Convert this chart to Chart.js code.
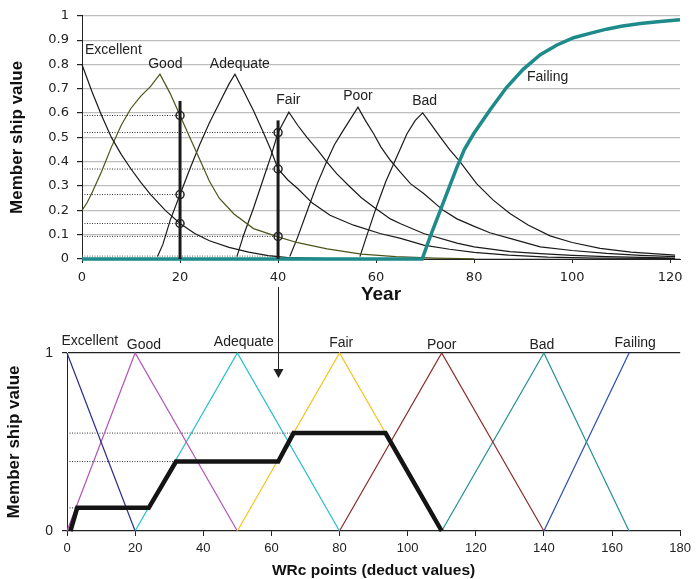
<!DOCTYPE html>
<html>
<head>
<meta charset="utf-8">
<script src="https://cdn.jsdelivr.net/npm/chart.js@4.4.0/dist/chart.umd.min.js"></script>
<style>
    html, body { margin: 0; padding: 0; background: #fff; }
    #wrap { position: relative; width: 696px; height: 579px; }
    #topChart { position: absolute; left: 0; top: 0; }
    #bottomChart { position: absolute; left: 0; top: 300px; }
</style>
</head>
<body>
<div id="wrap">
    <canvas id="topChart" width="696" height="300"></canvas>
    <canvas id="bottomChart" width="696" height="279"></canvas>
</div>
<script>
/* =========================
   DATA - top chart (year, membership)
========================== */
const yearTicks = [0, 20, 40, 60, 80, 100, 120];
const classNames = ['Excellent', 'Good', 'Adequate', 'Fair', 'Poor', 'Bad', 'Failing'];

const excellentTop = [[0, 0.8], [2, 0.69], [4, 0.59], [6, 0.5], [8, 0.43], [10, 0.37], [12, 0.315],
    [14, 0.265], [17, 0.2], [20, 0.146], [23, 0.105], [26, 0.075], [30, 0.048], [34, 0.028],
    [38, 0.014], [42, 0.006], [50, 0.002]];
const goodTop = [[0, 0.2], [1, 0.23], [2, 0.27], [4, 0.36], [6, 0.46], [8, 0.55], [10, 0.62], [12, 0.67],
    [14, 0.71], [15.9, 0.76], [18, 0.68], [20, 0.59], [22, 0.5], [24, 0.41], [26, 0.32], [28, 0.25],
    [31, 0.185], [35, 0.125], [40, 0.091], [44, 0.067], [50, 0.042], [57, 0.02], [64, 0.01],
    [72, 0.004], [80, 0.001]];
const adequateTop = [[15.4, 0.01], [16.5, 0.06], [18, 0.16], [20, 0.265], [22, 0.37], [24, 0.47],
    [26, 0.56], [28, 0.64], [30, 0.72], [31.2, 0.76], [33, 0.69], [35, 0.61], [37, 0.52], [38.5, 0.45],
    [40, 0.37], [42, 0.325], [44, 0.29], [47, 0.23], [50.6, 0.18], [55.4, 0.139], [60.8, 0.105],
    [65, 0.085], [69.7, 0.057], [75, 0.04], [80, 0.027], [87, 0.016], [95, 0.008], [105, 0.004], [121, 0.002]];
const fairTop = [[31.6, 0.01], [33, 0.1], [35, 0.21], [37, 0.33], [38.5, 0.42], [40, 0.52], [42.2, 0.604],
    [44, 0.55], [45.9, 0.5], [48, 0.45], [49.9, 0.4], [52, 0.35], [54.7, 0.296], [57, 0.252],
    [59.5, 0.214], [62.9, 0.165], [65, 0.145], [69.7, 0.105], [76.5, 0.065], [80, 0.05], [87.3, 0.03],
    [93.5, 0.022], [100, 0.015], [107, 0.01], [121, 0.004]];
const poorTop = [[42.4, 0.01], [44, 0.09], [46.5, 0.228], [48, 0.31], [49.9, 0.4], [51.5, 0.47],
    [53.3, 0.529], [56.3, 0.624], [57.8, 0.57], [59.5, 0.515], [61, 0.46], [62.9, 0.406], [64.9, 0.358],
    [67, 0.31], [69.7, 0.269], [73.7, 0.2], [76.5, 0.165], [79.9, 0.135], [83.2, 0.108], [87.3, 0.085],
    [93.5, 0.05], [100, 0.035], [107, 0.023], [114, 0.015], [121, 0.01]];
const badTop = [[56.7, 0.01], [58, 0.09], [60, 0.21], [62, 0.32], [64, 0.41], [66.3, 0.515], [68, 0.57],
    [69.5, 0.601], [71, 0.56], [73.1, 0.501], [75, 0.45], [77.1, 0.4], [80.5, 0.31], [83.9, 0.242],
    [87.3, 0.187], [91, 0.14], [95.5, 0.095], [100, 0.068], [105.7, 0.044], [112, 0.028], [121, 0.016]];
const failingTop = [[0, 0], [69.4, 0], [71, 0.09], [73.1, 0.2], [75, 0.3], [76.5, 0.378], [78, 0.45],
    [79.9, 0.515], [83.3, 0.615], [86.6, 0.705], [90, 0.78], [93.5, 0.84], [96.9, 0.88], [100.3, 0.91],
    [104, 0.93], [107, 0.945], [110, 0.957], [113.9, 0.968], [118, 0.977], [122, 0.984]];

// readings at year 20 and 40
const sampleYears = [20, 40];
const sampleTops = [0.65, 0.57];
const readAt20 = [0.59, 0.265, 0.146];
const readAt40 = [0.52, 0.37, 0.093];
const baseDotted = 0.012;
const arrowYear = 40;

/* =========================
   DATA - bottom chart (WRc points, membership)
========================== */
const wrcTicks = [0, 20, 40, 60, 80, 100, 120, 140, 160, 180];
const excellentWrc = [[0, 1], [20, 0]];
const goodWrc = [[0, 0], [20, 1], [50, 0]];
const adequateWrc = [[20, 0], [50, 1], [80, 0]];
const fairWrc = [[50, 0], [80, 1], [110, 0]];
const poorWrc = [[80, 0], [110, 1], [140, 0]];
const badWrc = [[110, 0], [140, 1], [165, 0]];
const failingWrc = [[140, 0], [165, 1]];
const outputWrc = [[1, 0], [3, 0.13], [24, 0.13], [32, 0.39], [62, 0.39], [66.5, 0.55], [93.5, 0.55], [110, 0]];
const outputLevels = [[3, 0.13], [32, 0.39], [66.5, 0.55]];

const pts = arr => arr.map(([x, y]) => ({ x, y }));

const tickFontTop = { family: "'DejaVu Sans', sans-serif", size: 13 };
const tickFontBottom = { family: "'Liberation Sans', Arial, sans-serif", size: 13 };
const titleFont = (size) => ({ family: "'Liberation Sans', Arial, sans-serif", size, weight: 'bold', lineHeight: 1 });

const line = (data, color, width, extra) => Object.assign({
    data: pts(data), borderColor: color, borderWidth: width, pointRadius: 0,
    fill: false, tension: 0, clip: false
}, extra || {});

/* =========================
   PLUGINS
========================== */
const curveLabels = {
    id: 'curveLabels',
    afterDatasetsDraw(chart, args, opts) {
        const { ctx, scales: { x, y } } = chart;
        ctx.save();
        ctx.font = "14px 'Liberation Sans', Arial, sans-serif";
        ctx.fillStyle = '#222';
        ctx.textAlign = 'center';
        ctx.textBaseline = 'middle';
        opts.items.forEach(it => {
            ctx.fillText(it.text, x.getPixelForValue(it.x), y.getPixelForValue(it.y) + (it.dy || 0));
        });
        ctx.restore();
    }
};

const arrowStub = {
    id: 'arrowStub',
    afterDraw(chart) {
        const { ctx } = chart;
        const px = Math.round(chart.scales.x.getPixelForValue(arrowYear)) + 0.5;
        ctx.save();
        ctx.strokeStyle = '#222';
        ctx.lineWidth = 1;
        ctx.beginPath();
        ctx.moveTo(px, 287);
        ctx.lineTo(px, chart.height);
        ctx.stroke();
        ctx.restore();
    }
};

/* =========================
   TOP CHART
========================== */
const dottedTop = [];
readAt20.forEach(v => dottedTop.push(line([[0, v], [20, v]], '#333', 1, { borderDash: [1, 1.5] })));
readAt40.forEach(v => dottedTop.push(line([[0, v], [40, v]], '#333', 1, { borderDash: [1, 1.5] })));
dottedTop.push(line([[0, baseDotted], [40, baseDotted]], '#666', 1, { borderDash: [1, 1.5] }));

const markers = {
    data: [...readAt20.map(v => ({ x: 20, y: v })), ...readAt40.map(v => ({ x: 40, y: v }))],
    showLine: false, pointRadius: 4, pointBorderWidth: 1.5,
    pointBorderColor: '#222', pointBackgroundColor: 'rgba(0,0,0,0)', clip: false
};

const topChart = new Chart(document.getElementById('topChart'), {
    type: 'line',
    data: {
        datasets: [
            markers,
            line([[sampleYears[0], 0], [sampleYears[0], sampleTops[0]]], '#1a1a1a', 3),
            line([[sampleYears[1], 0], [sampleYears[1], sampleTops[1]]], '#1a1a1a', 3),
            line(failingTop, '#1e8a8a', 3.5),
            line(excellentTop, '#1a1a1a', 1.2),
            line(goodTop, '#4d5319', 1.2),
            line(adequateTop, '#1a1a1a', 1.2),
            line(fairTop, '#1a1a1a', 1.2),
            line(poorTop, '#1a1a1a', 1.2),
            line(badTop, '#1a1a1a', 1.2),
            ...dottedTop
        ]
    },
    plugins: [curveLabels, arrowStub],
    options: {
        responsive: false,
        animation: false,
        layout: { padding: { top: 15, right: 16, left: 0, bottom: 0 } },
        plugins: {
            legend: { display: false },
            tooltip: { enabled: false },
            curveLabels: {
                items: [
                    { text: classNames[0], x: 6.4, y: 0.86 },
                    { text: classNames[1], x: 17, y: 0.8 },
                    { text: classNames[2], x: 32.2, y: 0.803 },
                    { text: classNames[3], x: 42.1, y: 0.652 },
                    { text: classNames[4], x: 56.3, y: 0.668 },
                    { text: classNames[5], x: 69.9, y: 0.648 },
                    { text: classNames[6], x: 95, y: 0.746 }
                ]
            }
        },
        scales: {
            x: {
                type: 'linear', min: 0, max: 122,
                afterBuildTicks: s => { s.ticks = yearTicks.map(v => ({ value: v })); },
                grid: { drawOnChartArea: false, drawTicks: true, tickLength: 4, tickColor: '#222' },
                border: { color: '#222', width: 1 },
                ticks: { padding: 7, font: tickFontTop, color: '#222', maxRotation: 0 },
                title: { display: true, text: 'Year', font: titleFont(19), color: '#111', padding: { top: 0, bottom: -4 } },
                afterFit: s => { s.height = 41; }
            },
            y: {
                type: 'linear', min: 0, max: 1,
                ticks: {
                    stepSize: 0.1, padding: 8, font: tickFontTop, color: '#222',
                    callback: v => String(Number(v.toFixed(1)))
                },
                grid: { color: '#bdbdbd', lineWidth: 1.2, tickColor: '#222', tickLength: 5 },
                border: { color: '#222', width: 1 },
                title: { display: true, text: 'Member ship value', font: titleFont(17), color: '#111', padding: { top: 9, bottom: 0 } },
                afterFit: s => { s.width = 82; }
            }
        }
    }
});

/* =========================
   BOTTOM CHART
========================== */
const arrowDown = {
    id: 'arrowDown',
    afterDraw(chart) {
        const { ctx } = chart;
        const px = Math.round(topChart.scales.x.getPixelForValue(arrowYear)) + 0.5;
        ctx.save();
        ctx.strokeStyle = '#222';
        ctx.fillStyle = '#222';
        ctx.lineWidth = 1;
        ctx.beginPath();
        ctx.moveTo(px, 0);
        ctx.lineTo(px, 70);
        ctx.stroke();
        ctx.beginPath();
        ctx.moveTo(px - 5, 69);
        ctx.lineTo(px + 5, 69);
        ctx.lineTo(px, 78);
        ctx.closePath();
        ctx.fill();
        ctx.restore();
    }
};

const dottedBottom = outputLevels.map(([x, v]) => line([[0, v], [x, v]], '#333', 1, { borderDash: [1, 1.5] }));

new Chart(document.getElementById('bottomChart'), {
    type: 'line',
    data: {
        datasets: [
            line(outputWrc, '#141414', 4.5, { borderJoinStyle: 'miter' }),
            line(excellentWrc, '#2b2b8c', 1.2),
            line(goodWrc, '#b455b4', 1.2),
            line(adequateWrc, '#22c0c8', 1.2),
            line(fairWrc, '#f5c518', 1.2),
            line(poorWrc, '#8b2a2a', 1.2),
            line(badWrc, '#1f9090', 1.2),
            line(failingWrc, '#2a4cb0', 1.2),
            ...dottedBottom
        ]
    },
    plugins: [curveLabels, arrowDown],
    options: {
        responsive: false,
        animation: false,
        layout: { padding: { top: 53, right: 11, left: 0, bottom: 0 } },
        plugins: {
            legend: { display: false },
            tooltip: { enabled: false },
            curveLabels: {
                items: [
                    { text: classNames[0], x: 6.7, y: 1, dy: -12 },
                    { text: classNames[1], x: 22.6, y: 1, dy: -8 },
                    { text: classNames[2], x: 51.9, y: 1, dy: -11 },
                    { text: classNames[3], x: 80.5, y: 1, dy: -10 },
                    { text: classNames[4], x: 110, y: 1, dy: -8 },
                    { text: classNames[5], x: 139.4, y: 1, dy: -8 },
                    { text: classNames[6], x: 166.8, y: 1, dy: -10 }
                ]
            }
        },
        scales: {
            x: {
                type: 'linear', min: 0, max: 180,
                afterBuildTicks: s => { s.ticks = wrcTicks.map(v => ({ value: v })); },
                grid: { drawOnChartArea: false, drawTicks: true, tickLength: 5, tickColor: '#222' },
                border: { color: '#222', width: 1.2 },
                ticks: { padding: 5, font: tickFontBottom, color: '#222', maxRotation: 0 },
                title: { display: true, text: 'WRc points (deduct values)', font: titleFont(15.5), color: '#111', padding: { top: 0, bottom: 1 } },
                afterFit: s => { s.height = 48; }
            },
            y: {
                type: 'linear', min: 0, max: 1,
                ticks: { stepSize: 1, padding: 9, font: { family: "'Liberation Sans', Arial, sans-serif", size: 14 }, color: '#222' },
                grid: {
                    color: c => (c.tick && c.tick.value === 1 ? '#222' : 'rgba(0,0,0,0)'),
                    lineWidth: 1.2, tickColor: '#222', tickLength: 5
                },
                border: { color: '#222', width: 1 },
                title: { display: true, text: 'Member ship value', font: titleFont(17), color: '#111', padding: { top: 6, bottom: 0 } },
                afterFit: s => { s.width = 67; }
            }
        }
    }
});
</script>
</body>
</html>
